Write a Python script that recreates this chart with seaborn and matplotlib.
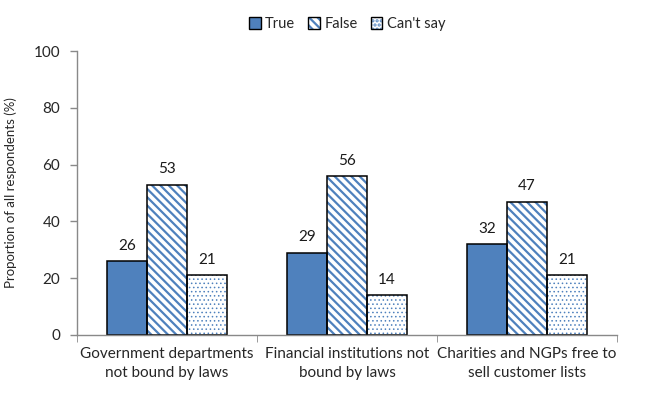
import pandas as pd
import matplotlib.pyplot as plt
import seaborn as sns
from matplotlib.patches import Patch
from matplotlib.legend_handler import HandlerTuple

categories = ['Government departments\nnot bound by laws',
              'Financial institutions not\nbound by laws',
              'Charities and NGPs free to\nsell customer lists']
answers = ['True', 'False', "Can't say"]
true_vals = [26, 29, 32]
false_vals = [53, 56, 47]
cantsay_vals = [21, 14, 21]

df = pd.DataFrame({
    'categoria': categories * 3,
    'respuesta': [answers[0]] * 3 + [answers[1]] * 3 + [answers[2]] * 3,
    'valor': true_vals + false_vals + cantsay_vals,
})

azul = '#4F81BD'
gris = '#898989'
caras = {'True': azul, 'False': 'white', "Can't say": 'white'}
tramas = {'True': '', 'False': '\\\\\\\\', "Can't say": '....'}
grosor = {'True': 1.0, 'False': 1.6, "Can't say": 0.6}

sns.set_style('white')
plt.rcParams['font.family'] = ['Lato', 'DejaVu Sans']
plt.rcParams['hatch.linewidth'] = 1.6

fig = plt.figure(figsize=(6.6, 3.93), dpi=100)
ax = fig.add_axes([0.1167, 0.1476, 0.8182, 0.7224])

# Capa 1: relleno y trama azul
sns.barplot(data=df, x='categoria', y='valor', hue='respuesta', hue_order=answers,
            palette=caras, saturation=1, width=0.667, gap=0, legend=False, ax=ax,
            edgecolor=azul, linewidth=0)
for cont, r in zip(ax.containers, answers):
    for p in cont:
        p.set_hatch(tramas[r])
        p.set_edgecolor(azul)
        p.set_linewidth(0)
        if hasattr(p, 'set_hatch_linewidth'):
            p.set_hatch_linewidth(grosor[r])

# Capa 2: borde negro
sns.barplot(data=df, x='categoria', y='valor', hue='respuesta', hue_order=answers,
            width=0.667, gap=0, legend=False, ax=ax, fill=False,
            edgecolor='black', linewidth=1.1)
for cont in ax.containers[3:]:
    for p in cont:
        p.set_facecolor('none')
        p.set_edgecolor('black')

for cont in ax.containers[3:]:
    ax.bar_label(cont, padding=6, fontsize=11, color='#1a1a1a')

ax.set_ylim(0, 100)
ax.set_xlim(-0.5, 2.5)
ax.set_yticks(range(0, 101, 20))
ax.set_xlabel('')
ax.set_ylabel('Proportion of all respondents (%)', fontsize=9.5, labelpad=12)
ax.tick_params(axis='y', direction='out', length=5, color=gris, width=1,
               labelsize=11, left=True, pad=7)
ax.tick_params(axis='x', which='major', length=0, labelsize=11, pad=9)
ax.set_xticks([-0.5, 0.5, 1.5, 2.5], minor=True)
ax.tick_params(axis='x', which='minor', direction='out', length=5, color=gris, bottom=True)
for lbl in ax.get_xticklabels():
    lbl.set_linespacing(1.45)
for lado in ['top', 'right']:
    ax.spines[lado].set_visible(False)
for lado in ['left', 'bottom']:
    ax.spines[lado].set_color(gris)
    ax.spines[lado].set_linewidth(1)

handles = []
for r in answers:
    relleno = Patch(facecolor=caras[r], edgecolor=azul, hatch=tramas[r], linewidth=0)
    borde = Patch(facecolor='none', edgecolor='black', linewidth=1)
    handles.append((relleno, borde))
ax.legend(handles, answers, handler_map={tuple: HandlerTuple(ndivide=1)},
          loc='lower center', bbox_to_anchor=(0.5, 1.05), ncol=3, frameon=False,
          fontsize=10.5, handlelength=0.8, handleheight=0.8, handletextpad=0.3,
          columnspacing=0.9, borderaxespad=0)

plt.savefig('out.png', dpi=100)
